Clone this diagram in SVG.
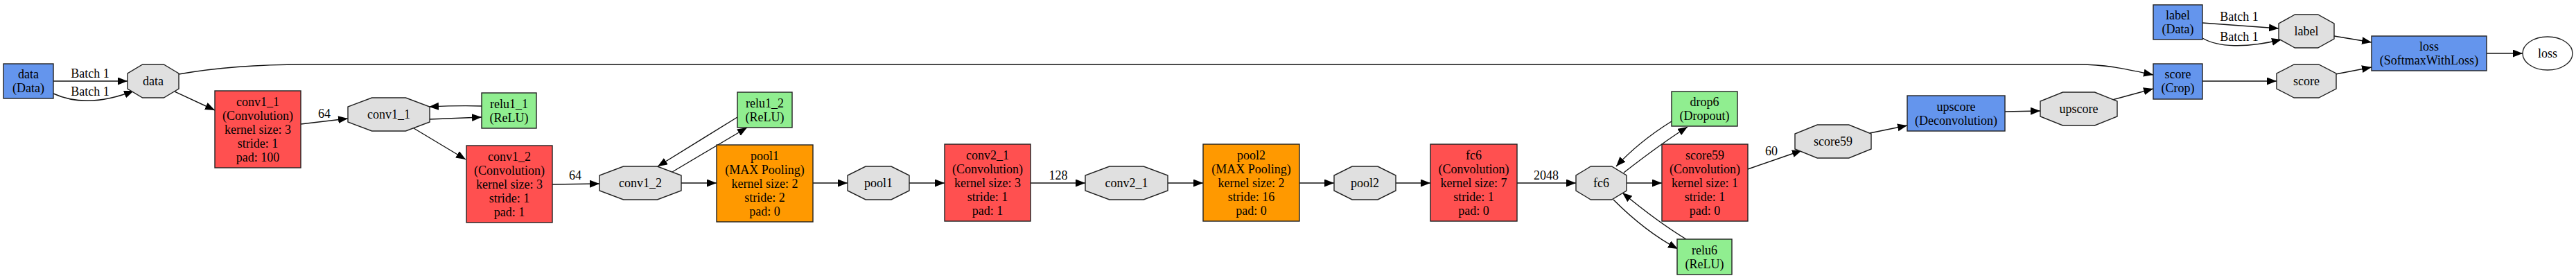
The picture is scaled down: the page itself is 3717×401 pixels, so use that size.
<svg xmlns="http://www.w3.org/2000/svg" width="3717" height="401" viewBox="0 0 3717 401">
<style>
.bg{fill:#ffffff}
rect,polygon,ellipse{stroke:#222;stroke-width:1.4}
.conv{fill:#FF5050}
.pool{fill:#FF9900}
.relu{fill:#90EE90}
.dat{fill:#6495ED}
.blob{fill:#E0E0E0}
.out{fill:#ffffff}
text{font-family:"Liberation Serif","Times New Roman",serif;font-size:18px;fill:#000;text-anchor:middle}
.e path{fill:none;stroke:#111;stroke-width:1.4;marker-end:url(#ah)}
</style>
<defs>
<marker id="ah" markerUnits="userSpaceOnUse" markerWidth="15" markerHeight="12" refX="14" refY="5.5" orient="auto">
<path d="M0,0 L14,5.5 L0,11 z" fill="#000"/>
</marker>
</defs>
<rect class="bg" x="0" y="0" width="3717" height="401" style="stroke:none"/>

<g id="connectors" class="e">
<path d="M77,117 L184,117"/>
<path d="M77,135 C110,150 150,148 193,131"/>
<path d="M252,132 L310,159"/>
<path d="M258,107 C320,96 380,93 440,93 L3000,93 C3040,93 3070,100 3107,108"/>
<path d="M434,179 L502,171"/>
<path d="M695,153 C670,152 640,153 619,154"/>
<path d="M620,172 L695,169"/>
<path d="M597,185 L672,230"/>
<path d="M797,266 L865,265"/>
<path d="M1064,169 L949,240"/>
<path d="M970,248 L1078,184"/>
<path d="M983,264 L1034,264"/>
<path d="M1173,264 L1223,264"/>
<path d="M1312,264 L1363,264"/>
<path d="M1487,264 L1566,264"/>
<path d="M1685,264 L1736,264"/>
<path d="M1875,264 L1925,264"/>
<path d="M2014,264 L2064,264"/>
<path d="M2189,264 L2274,264"/>
<path d="M2412,175 C2380,195 2355,215 2332,240"/>
<path d="M2343,249 C2370,228 2400,205 2435,183"/>
<path d="M2347,264 L2398,264"/>
<path d="M2328,288 C2355,315 2385,340 2421,359"/>
<path d="M2433,345 C2400,325 2370,302 2341,278"/>
<path d="M2522,244 L2600,217"/>
<path d="M2698,192 L2752,181"/>
<path d="M2893,161 L2944,160"/>
<path d="M3048,144 L3107,128"/>
<path d="M3178,33 L3288,41"/>
<path d="M3178,55 C3200,68 3240,70 3292,57"/>
<path d="M3178,117 L3285,117"/>
<path d="M3368,52 L3422,61"/>
<path d="M3370,107 L3422,97"/>
<path d="M3588,77 L3640,77"/>
<text x="130" y="112">Batch 1</text>
<text x="130" y="138">Batch 1</text>
<text x="468" y="170">64</text>
<text x="830" y="259">64</text>
<text x="1527" y="259">128</text>
<text x="2231" y="259">2048</text>
<text x="2556" y="224">60</text>
<text x="3231" y="30">Batch 1</text>
<text x="3231" y="59">Batch 1</text>
</g>

<g id="data_layer"><rect class="dat" x="5" y="92" width="72" height="50"/><text x="41" y="113">data</text><text x="41" y="133">(Data)</text></g>
<g id="data_blob"><polygon class="blob" points="205.7,93 236.3,93 258,106 258,128 236.3,141 205.7,141 184,128 184,106"/><text x="221" y="123">data</text></g>

<g id="conv1_1_layer"><rect class="conv" x="310" y="131" width="124" height="111"/><text x="372" y="153">conv1_1</text><text x="372" y="173">(Convolution)</text><text x="372" y="193">kernel size: 3</text><text x="372" y="213">stride: 1</text><text x="372" y="233">pad: 100</text></g>
<g id="conv1_1_blob"><polygon class="blob" points="536.6,141 585.4,141 620,154 620,176 585.4,189 536.6,189 502,176 502,154"/><text x="561" y="171">conv1_1</text></g>
<g id="relu1_1"><rect class="relu" x="695" y="134" width="79" height="51"/><text x="734.5" y="156">relu1_1</text><text x="734.5" y="176">(ReLU)</text></g>

<g id="conv1_2_layer"><rect class="conv" x="673" y="210" width="124" height="111"/><text x="735" y="232">conv1_2</text><text x="735" y="252">(Convolution)</text><text x="735" y="272">kernel size: 3</text><text x="735" y="292">stride: 1</text><text x="735" y="312">pad: 1</text></g>
<g id="conv1_2_blob"><polygon class="blob" points="899.6,240 948.4,240 983,253 983,275 948.4,288 899.6,288 865,275 865,253"/><text x="924" y="270">conv1_2</text></g>
<g id="relu1_2"><rect class="relu" x="1064" y="133" width="79" height="51"/><text x="1103.5" y="155">relu1_2</text><text x="1103.5" y="175">(ReLU)</text></g>

<g id="pool1_layer"><rect class="pool" x="1034" y="209" width="139" height="111"/><text x="1103.5" y="231">pool1</text><text x="1103.5" y="251">(MAX Pooling)</text><text x="1103.5" y="271">kernel size: 2</text><text x="1103.5" y="291">stride: 2</text><text x="1103.5" y="311">pad: 0</text></g>
<g id="pool1_blob"><polygon class="blob" points="1249.1,240 1285.9,240 1312,253 1312,275 1285.9,288 1249.1,288 1223,275 1223,253"/><text x="1267.5" y="270">pool1</text></g>

<g id="conv2_1_layer"><rect class="conv" x="1363" y="208" width="124" height="111"/><text x="1425" y="230">conv2_1</text><text x="1425" y="250">(Convolution)</text><text x="1425" y="270">kernel size: 3</text><text x="1425" y="290">stride: 1</text><text x="1425" y="310">pad: 1</text></g>
<g id="conv2_1_blob"><polygon class="blob" points="1600.9,240 1650.1,240 1685,253 1685,275 1650.1,288 1600.9,288 1566,275 1566,253"/><text x="1625.5" y="270">conv2_1</text></g>

<g id="pool2_layer"><rect class="pool" x="1736" y="208" width="139" height="111"/><text x="1805.5" y="230">pool2</text><text x="1805.5" y="250">(MAX Pooling)</text><text x="1805.5" y="270">kernel size: 2</text><text x="1805.5" y="290">stride: 16</text><text x="1805.5" y="310">pad: 0</text></g>
<g id="pool2_blob"><polygon class="blob" points="1951.1,240 1987.9,240 2014,253 2014,275 1987.9,288 1951.1,288 1925,275 1925,253"/><text x="1969.5" y="270">pool2</text></g>

<g id="fc6_layer"><rect class="conv" x="2064" y="208" width="125" height="111"/><text x="2126.5" y="230">fc6</text><text x="2126.5" y="250">(Convolution)</text><text x="2126.5" y="270">kernel size: 7</text><text x="2126.5" y="290">stride: 1</text><text x="2126.5" y="310">pad: 0</text></g>
<g id="fc6_blob"><polygon class="blob" points="2295.4,240 2325.6,240 2347,253 2347,275 2325.6,288 2295.4,288 2274,275 2274,253"/><text x="2310.5" y="270">fc6</text></g>
<g id="drop6"><rect class="relu" x="2412" y="132" width="95" height="50"/><text x="2459.5" y="153">drop6</text><text x="2459.5" y="173">(Dropout)</text></g>
<g id="relu6"><rect class="relu" x="2420" y="345" width="79" height="51"/><text x="2459.5" y="367">relu6</text><text x="2459.5" y="387">(ReLU)</text></g>

<g id="score59_layer"><rect class="conv" x="2398" y="208" width="124" height="111"/><text x="2460" y="230">score59</text><text x="2460" y="250">(Convolution)</text><text x="2460" y="270">kernel size: 1</text><text x="2460" y="290">stride: 1</text><text x="2460" y="310">pad: 0</text></g>
<g id="score59_blob"><polygon class="blob" points="2622.2,180 2667.8,180 2700,193 2700,215 2667.8,228 2622.2,228 2590,215 2590,193"/><text x="2645" y="210">score59</text></g>

<g id="upscore_layer"><rect class="dat" x="2752" y="138" width="141" height="51"/><text x="2822.5" y="160">upscore</text><text x="2822.5" y="180">(Deconvolution)</text></g>
<g id="upscore_blob"><polygon class="blob" points="2976.5,133 3022.5,133 3055,146 3055,168 3022.5,181 2976.5,181 2944,168 2944,146"/><text x="2999.5" y="163">upscore</text></g>

<g id="label_layer"><rect class="dat" x="3107" y="7" width="71" height="50"/><text x="3142.5" y="28">label</text><text x="3142.5" y="48">(Data)</text></g>
<g id="label_blob"><polygon class="blob" points="3311.4,21 3344.6,21 3368,34 3368,56 3344.6,69 3311.4,69 3288,56 3288,34"/><text x="3328" y="51">label</text></g>

<g id="score_layer"><rect class="dat" x="3107" y="92" width="71" height="51"/><text x="3142.5" y="113">score</text><text x="3142.5" y="133">(Crop)</text></g>
<g id="score_blob"><polygon class="blob" points="3310.2,93 3345.8,93 3371,106 3371,128 3345.8,141 3310.2,141 3285,128 3285,106"/><text x="3328" y="123">score</text></g>

<g id="loss_layer"><rect class="dat" x="3422" y="52" width="166" height="50"/><text x="3505" y="73">loss</text><text x="3505" y="93">(SoftmaxWithLoss)</text></g>
<g id="loss_blob"><ellipse class="out" cx="3676" cy="77" rx="36" ry="24"/><text x="3676" y="83">loss</text></g>
</svg>
